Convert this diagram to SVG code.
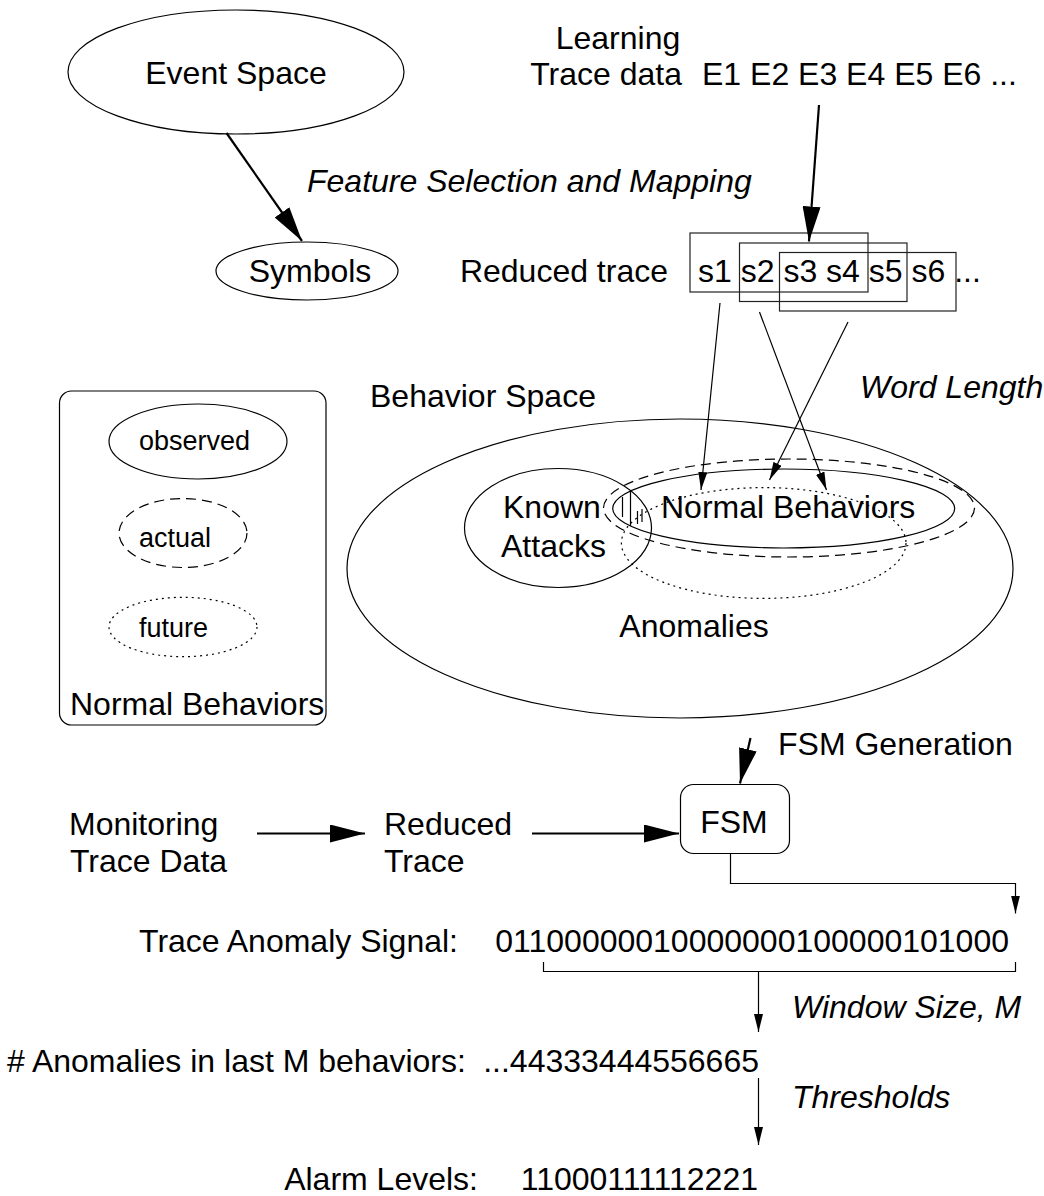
<svg xmlns="http://www.w3.org/2000/svg" width="1044" height="1196" viewBox="0 0 1044 1196">
  <defs>
    <style>
      text { font-family: "Liberation Sans", Arial, sans-serif; font-size: 32px; fill: #000; }
      .it { font-style: italic; }
      .sm { font-size: 27px; }
      .mid { text-anchor: middle; }
      .end { text-anchor: end; }
      .shape { fill: none; stroke: #000; stroke-width: 1.2; }
      .dash { fill: none; stroke: #000; stroke-width: 1.2; stroke-dasharray: 10 6; }
      .dot { fill: none; stroke: #000; stroke-width: 1.2; stroke-dasharray: 2 4; }
      .win { fill: none; stroke: #222; stroke-width: 1.2; }
      .thick { fill: none; stroke: #000; stroke-width: 2.2; }
      .thin { fill: none; stroke: #000; stroke-width: 1.2; }
      .hatch { stroke: #000; stroke-width: 1.2; }
    </style>
    <marker id="big" viewBox="0 0 35 18" markerWidth="35" markerHeight="18" refX="35" refY="9" orient="auto" markerUnits="userSpaceOnUse">
      <path d="M0,0 L35,9 L0,18 Z" fill="#000"/>
    </marker>
    <marker id="small" viewBox="0 0 18 9" markerWidth="18" markerHeight="9" refX="18" refY="4.5" orient="auto" markerUnits="userSpaceOnUse">
      <path d="M0,0 L18,4.5 L0,9 Z" fill="#000"/>
    </marker>
  </defs>

  <!-- top: event space and symbol mapping -->
  <g id="event-space">
    <ellipse class="shape" cx="236" cy="72" rx="168" ry="62"/>
    <text class="mid" x="236" y="84">Event Space</text>
  </g>
  <g id="symbols">
    <ellipse class="shape" cx="307" cy="271" rx="91" ry="29"/>
    <text class="mid" x="310" y="282">Symbols</text>
  </g>
  <g id="learning-trace">
    <text class="mid" x="618" y="49">Learning</text>
    <text class="end" x="682" y="85">Trace data</text>
    <text x="702" y="85">E1 E2 E3 E4 E5 E6 ...</text>
  </g>
  <g id="reduced-trace">
    <text class="end" x="668" y="282">Reduced trace</text>
    <text x="698" y="282">s1 s2 s3 s4 s5 s6 ...</text>
    <rect class="win" x="690" y="233" width="178" height="59"/>
    <rect class="win" x="739.5" y="243" width="167.5" height="58.5"/>
    <rect class="win" x="779.5" y="252.5" width="176.5" height="58.5"/>
  </g>

  <!-- behavior space -->
  <g id="behavior-space">
    <text x="370" y="407">Behavior Space</text>
    <ellipse class="shape" cx="680" cy="568.5" rx="333" ry="149.5"/>
    <text class="mid" x="694" y="637">Anomalies</text>
  </g>
  <g id="known-attacks">
    <ellipse class="shape" cx="558" cy="528" rx="93.5" ry="59.5"/>
    <text x="503" y="518">Known</text>
    <text x="501" y="557">Attacks</text>
  </g>
  <g id="normal-behaviors">
    <ellipse class="dash" cx="789" cy="508" rx="185.5" ry="49"/>
    <ellipse class="shape" cx="783.7" cy="508.5" rx="171" ry="39.5"/>
    <ellipse class="dot" cx="763.7" cy="543" rx="142.3" ry="55.4"/>
    <text x="661" y="518">Normal Behaviors</text>
  </g>
  <g id="overlap-hatch">
    <line class="hatch" x1="622.5" y1="497" x2="622.5" y2="517"/>
    <line class="hatch" x1="630.5" y1="490" x2="630.5" y2="526"/>
    <line class="hatch" x1="637.5" y1="511" x2="637.5" y2="524"/>
    <line class="hatch" x1="642" y1="509" x2="642" y2="522"/>
  </g>

  <!-- legend -->
  <g id="legend">
    <rect class="shape" x="59.5" y="391" width="266.5" height="334" rx="12" ry="12"/>
    <ellipse class="shape" cx="198" cy="441.5" rx="89" ry="37.5"/>
    <text class="sm" x="139" y="450">observed</text>
    <ellipse class="dash" cx="183" cy="533" rx="64" ry="34.5"/>
    <text class="sm" x="139" y="547">actual</text>
    <ellipse class="dot" cx="183" cy="627" rx="74" ry="29.7"/>
    <text class="sm" x="139" y="637">future</text>
    <text x="70" y="715">Normal Behaviors</text>
  </g>

  <!-- monitoring pipeline -->
  <g id="monitoring">
    <text x="69" y="835">Monitoring</text>
    <text x="70" y="872">Trace Data</text>
  </g>
  <g id="reduced">
    <text x="384" y="835">Reduced</text>
    <text x="384" y="872">Trace</text>
  </g>
  <g id="fsm">
    <rect class="shape" x="680.5" y="784.5" width="109" height="69" rx="13" ry="13"/>
    <text class="mid" x="734" y="833">FSM</text>
  </g>
  <g id="signal">
    <text class="end" x="458" y="952">Trace Anomaly Signal:</text>
    <text class="end" x="1009" y="952">01100000010000000100000101000</text>
  </g>
  <g id="anomaly-count">
    <text x="7" y="1072"># Anomalies in last M behaviors:</text>
    <text class="end" x="759" y="1072">...44333444556665</text>
  </g>
  <g id="alarm-levels">
    <text class="end" x="478" y="1190">Alarm Levels:</text>
    <text class="end" x="758" y="1190">11000111112221</text>
  </g>

  <!-- connectors and their labels -->
  <g id="connectors">
    <line class="thick" x1="226.5" y1="133" x2="302" y2="241" marker-end="url(#big)"/>
    <text class="it" x="307" y="192">Feature Selection and Mapping</text>
    <line class="thick" x1="819" y1="105" x2="809" y2="241.5" marker-end="url(#big)"/>

    <line class="thin" x1="720" y1="303" x2="701" y2="490" marker-end="url(#small)"/>
    <line class="thin" x1="759.5" y1="312" x2="826.5" y2="490" marker-end="url(#small)"/>
    <line class="thin" x1="848" y1="322" x2="769.5" y2="480" marker-end="url(#small)"/>
    <text class="it" x="860" y="398">Word Length</text>

    <line class="thick" x1="750.5" y1="738" x2="740" y2="783.5" marker-end="url(#big)"/>
    <text x="778" y="755">FSM Generation</text>

    <line class="thick" x1="257" y1="833.5" x2="365" y2="833.5" marker-end="url(#big)"/>
    <line class="thick" x1="532" y1="833.5" x2="679" y2="833.5" marker-end="url(#big)"/>

    <polyline class="thin" points="730.5,853.5 730.5,883.5 1015.5,883.5 1015.5,913.5" marker-end="url(#small)"/>
    <polyline class="thin" points="543.5,962 543.5,971.5 1015.5,971.5 1015.5,962"/>
    <line class="thin" x1="758.5" y1="971.5" x2="758.5" y2="1032" marker-end="url(#small)"/>
    <text class="it" x="792" y="1018">Window Size, M</text>
    <line class="thin" x1="758.5" y1="1078" x2="758.5" y2="1145" marker-end="url(#small)"/>
    <text class="it" x="792" y="1108">Thresholds</text>
  </g>
</svg>
